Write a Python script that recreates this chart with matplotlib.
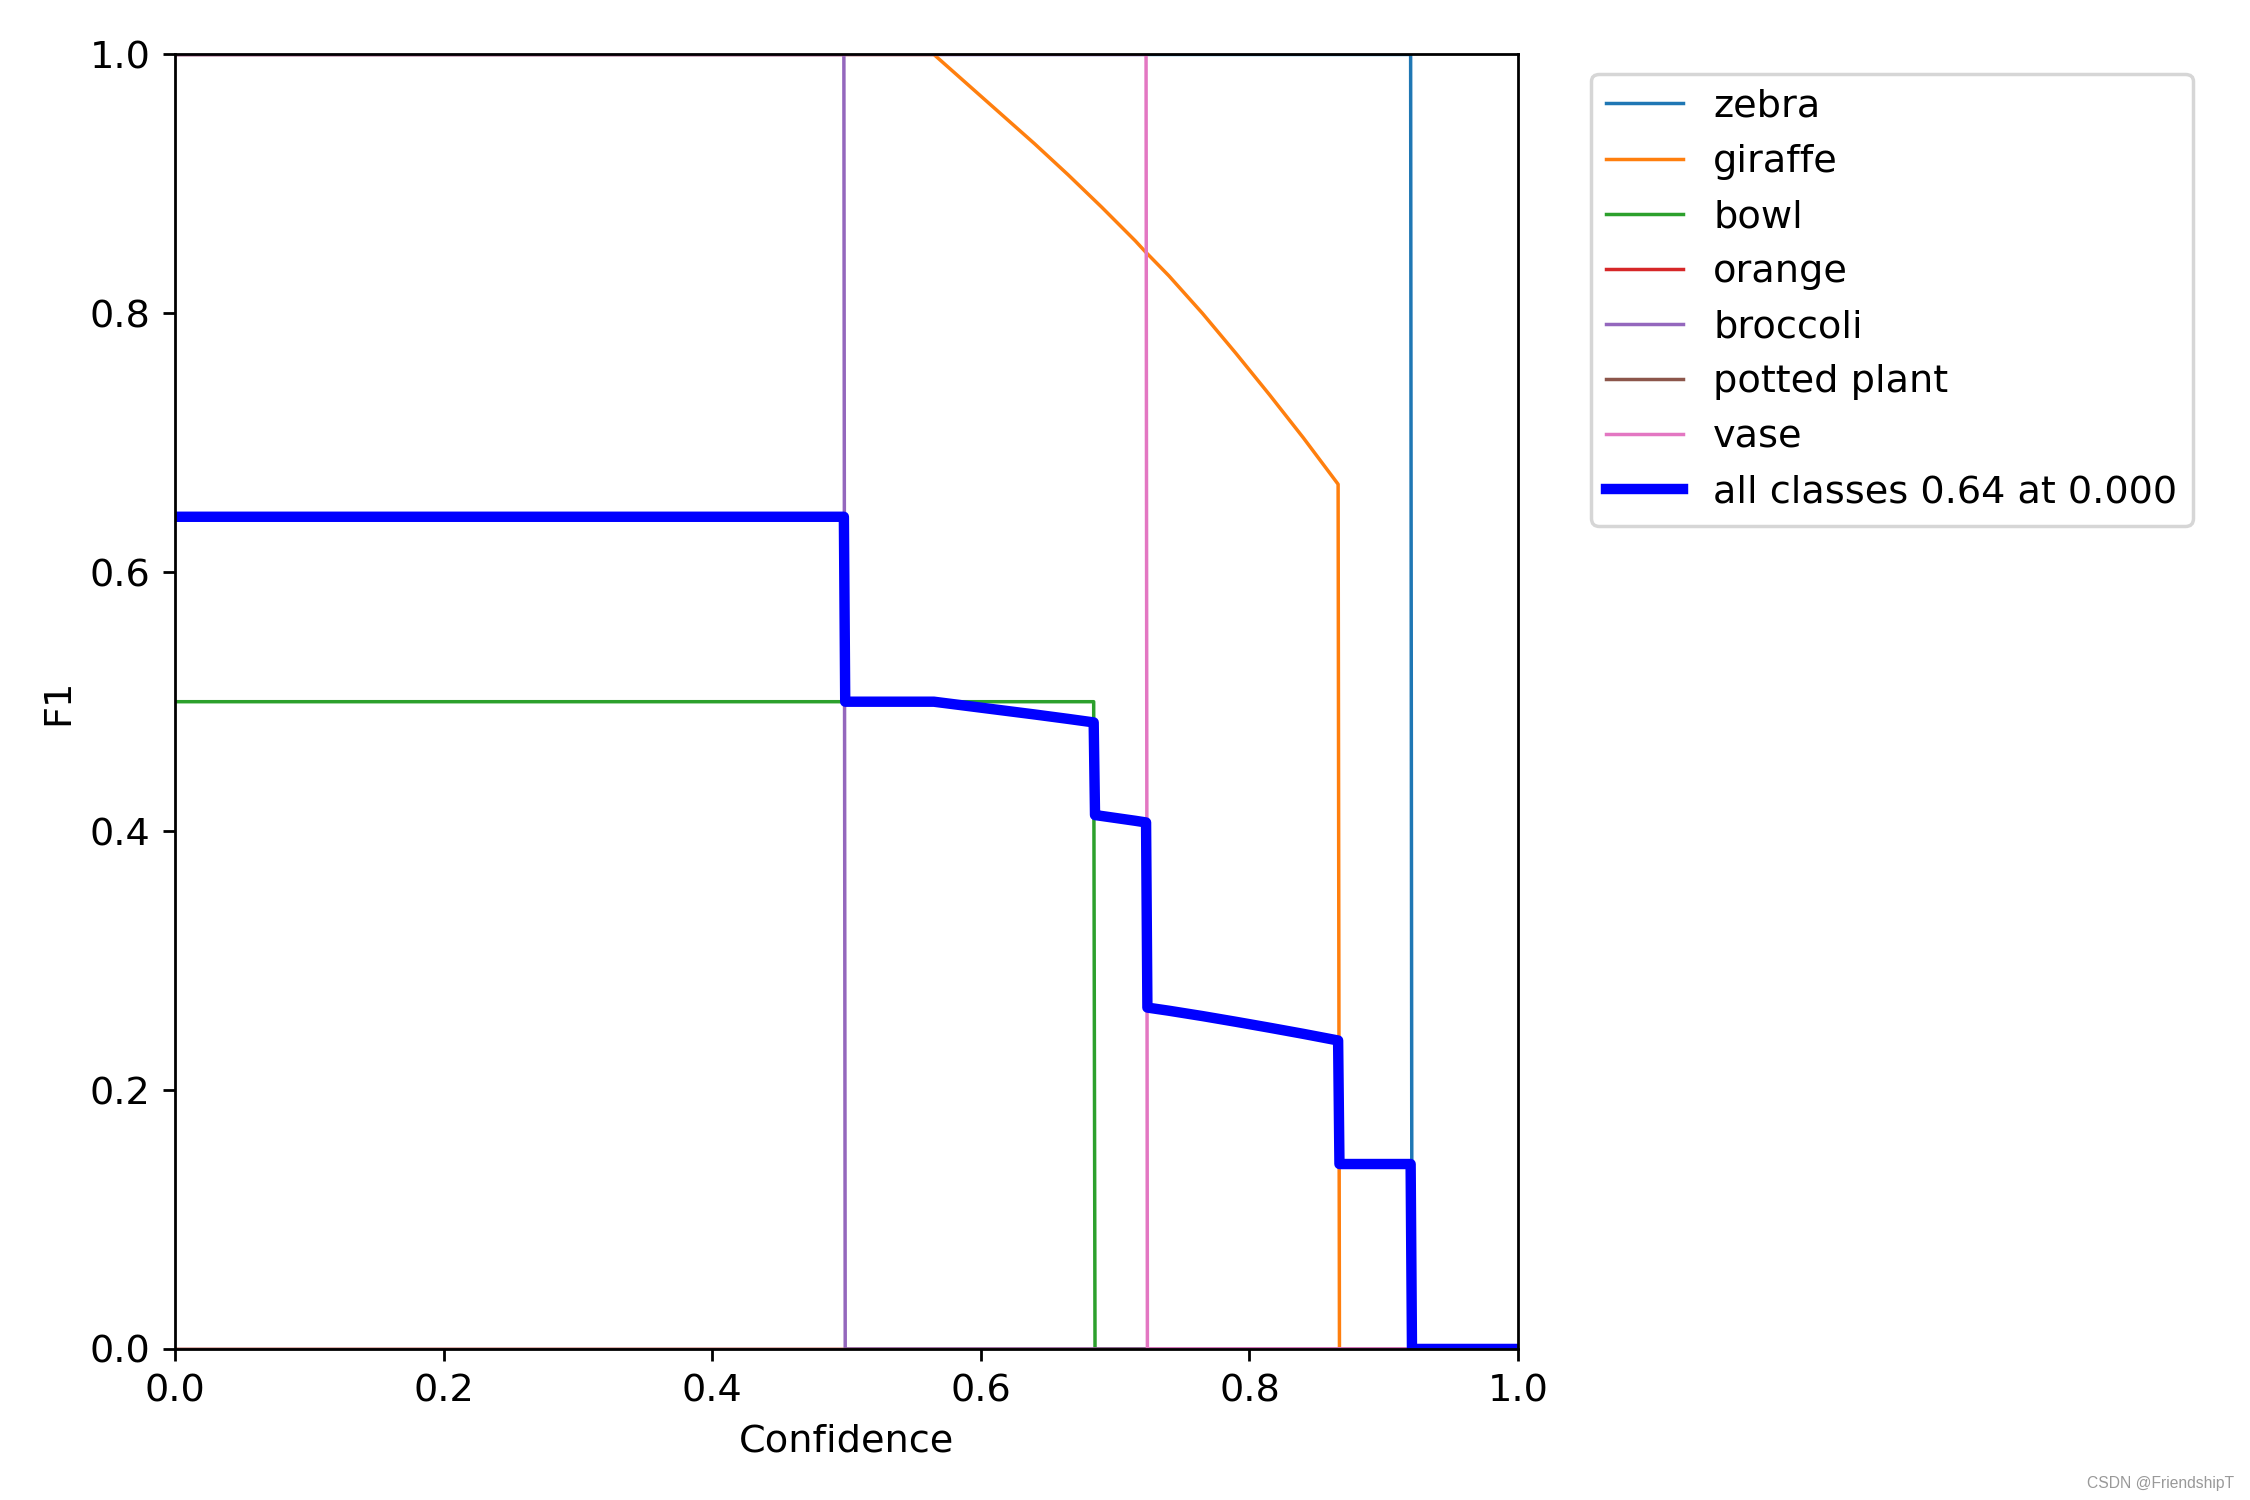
import numpy as np
import matplotlib
matplotlib.use("Agg")
from matplotlib import pyplot as plt

plt.rcParams["font.size"] = 11

# class names and F1 values at shared confidence breakpoints
names = ["zebra", "giraffe", "bowl", "orange", "broccoli", "potted plant", "vase"]

conf = [0.0, 0.498, 0.499, 0.565, 0.590, 0.615, 0.640, 0.665, 0.684, 0.685,
        0.690, 0.715, 0.723, 0.724, 0.740, 0.765, 0.790, 0.815, 0.840, 0.866,
        0.867, 0.920, 0.921, 1.0]

zebra = [1] * 22 + [0] * 2
giraffe = [1, 1, 1, 1.000, 0.977, 0.954, 0.931, 0.907, 0.888, 0.887,
           0.882, 0.856, 0.847, 0.846, 0.829, 0.800, 0.769, 0.737, 0.704, 0.668,
           0, 0, 0, 0]
bowl = [0.5] * 9 + [0] * 15
orange = [0] * 24
broccoli = [1] * 2 + [0] * 22
potted_plant = [0] * 24
vase = [1] * 13 + [0] * 11

py = np.array([zebra, giraffe, bowl, orange, broccoli, potted_plant, vase])
mean_f1 = py.mean(0)

fig, ax = plt.subplots(1, 1, figsize=(9, 6))
fig.subplots_adjust(left=0.0778, right=0.6747, top=0.9637, bottom=0.1007)

for i, y in enumerate(py):
    ax.plot(conf, y, linewidth=1, label=names[i])

ax.plot(conf, mean_f1, linewidth=3, color="blue",
        label="all classes %.2f at %.3f" % (mean_f1.max(), conf[int(mean_f1.argmax())]))

ax.set_xlabel("Confidence")
ax.set_ylabel("F1")
ax.set_xlim(0, 1)
ax.set_ylim(0, 1)
ax.legend(bbox_to_anchor=(1.04, 1), loc="upper left")

# watermark
fig.text(0.993, 0.006, "CSDN @FriendshipT", ha="right", va="bottom",
         fontsize=4.5, color="#999999", family="Liberation Sans")

fig.savefig("out.png", dpi=250)
